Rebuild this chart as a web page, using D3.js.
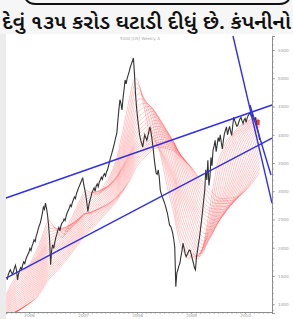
<!DOCTYPE html>
<html><head><meta charset="utf-8">
<script src="https://cdn.jsdelivr.net/npm/d3@7"></script>
<style>html,body{margin:0;padding:0;background:#f6f6f6;overflow:hidden}</style>
</head><body>
<svg id="c" width="293" height="319"></svg>
<script>
const headline = "દેવું ૧૩૫ કરોડ ઘટાડી દીધું છે. કંપનીનો";
const chartTitle = "5000 [US] Weekly A";
const yTickValues = [5500,5000,4500,4000,3500,3000,2500,2000,1500,1000];
const xTickYears = [2006,2007,2008,2009,2010];
const firstWeek = "2005-08-05";
// weekly closes before the visible window (only feed the moving averages)
const priorCloses = [150,190,170,230,260,240,300,330,310,370,
 400,380,440,470,450,510,540,520,580,610,
 590,650,680,660,720,750,730,790,820,800,
 860,890,870,930,960,940,1000,1040,1020,1080,
 1110,1100,1160,1200,1190,1250,1290,1300,1360,1400];
// weekly closes, visible window
const closes = [1430,1520,1570,1610,1570,1530,1570,1640,1690,1600,
 1430,1540,1600,1650,1620,1700,1750,1720,1790,1840,
 1880,1920,1990,1950,2030,2080,2140,2110,2200,2260,
 2330,2390,2440,2520,2610,2720,2680,2790,2700,2580,
 2400,2150,1700,1960,2050,1990,2090,2180,2240,2310,
 2360,2300,2390,2440,2460,2510,2480,2560,2620,2660,
 2700,2760,2730,2800,2850,2900,2870,2960,3010,3060,
 3100,3150,3190,3240,3120,3030,2930,2800,2640,2760,
 2840,2900,2980,3020,3060,3000,3090,3130,3080,3160,
 3200,3250,3210,3280,3310,3270,3340,3380,3450,3530,
 3600,3660,3730,3800,3880,3960,4030,4250,4450,4620,
 4550,4440,4650,4800,4970,4900,5000,5060,5120,5200,
 5250,5300,5360,5100,4740,4500,4310,4150,4000,3910,
 3850,3780,3900,4000,3950,3900,3980,4060,4140,4050,
 3920,3780,3600,3450,3320,3300,3380,3250,3020,2950,
 2900,2850,2800,2740,2670,2600,2500,2400,2380,2330,
 2260,2150,2010,1310,1550,1610,1680,1730,1850,1950,
 2080,1990,1900,1840,1880,1920,1960,1950,1880,1800,
 1730,1650,1610,1840,1950,2080,2190,2350,2500,2670,
 2850,3020,3380,3200,3550,3100,3250,3600,3450,3730,
 3800,3900,3700,3820,3950,3880,4000,3860,3750,3900,
 4020,4080,4140,4000,4080,4150,4060,3990,4150,4310,
 4250,4200,4150,4170,4230,4280,4310,4250,4200,4260,
 4290,4220,4300,4340,4370,4390,4320,4350,4300,4250,
 4310,4200,4100,4030,3910];
const maLengths = [14,17,20,23,26,29,32,35,38,41,44,47,50,53,56,59,62,65,68,71,74,77,80];
const trendLines = [
  [["2005-07-28",2880],["2010-07-02",4527]],
  [["2005-07-28",1464],["2010-07-02",3942]],
  [["2009-10-11",5748],["2010-07-02",2790]],
  [["2010-02-03",4527],["2010-06-25",3288]]
];

const svg = d3.select("#c");
const P = d3.timeParse("%Y-%m-%d");
const W = 293, H = 319;
const mL = 6, mR = 272, mT = 36, mB = 312;

// page furniture
svg.append("rect").attr("x",6).attr("y",34).attr("width",W-6).attr("height",H-34).attr("fill","#fff");
svg.append("rect").attr("x",0).attr("y",34).attr("width",6).attr("height",H-34).attr("fill","#ececec");
svg.append("path").attr("d","M25,-3 Q27,4 36,4 L279,4 Q288,4 290,-3")
  .attr("fill","none").attr("stroke","#111").attr("stroke-width",2);
svg.append("text").attr("x",2).attr("y",29).text(headline)
  .attr("font-family","'Noto Sans Gujarati','Lohit Gujarati','Noto Sans',sans-serif")
  .attr("font-size",20).attr("font-weight","600").attr("fill","#111")
  .attr("textLength",289).attr("lengthAdjust","spacingAndGlyphs");

const start = P(firstWeek);
const all = priorCloses.concat(closes).map((v,i)=>({
  date: d3.timeDay.offset(start, 7*(i-priorCloses.length)), v}));

const x = d3.scaleTime().domain([P("2005-07-28"), P("2010-07-02")]).range([mL,mR]);
const y = d3.scaleLinear().domain([845,5748]).range([313,mT]);

svg.append("defs").append("clipPath").attr("id","pc").append("rect")
  .attr("x",mL).attr("y",mT-2).attr("width",mR-mL).attr("height",mB-mT+2);

svg.append("text").attr("x",140).attr("y",40).attr("text-anchor","middle")
  .attr("font-family","DejaVu Sans").attr("font-size",4).attr("fill","#aaa").text(chartTitle);

const g = svg.append("g").attr("clip-path","url(#pc)");
const line = d3.line().x(d=>x(d.date)).y(d=>y(d.v));

// moving-average ribbon
const mas = maLengths.map(n => all.map((d,i)=>{
  const s = all.slice(Math.max(0,i-n+1), i+1);
  return {date:d.date, v:d3.mean(s, e=>e.v)};
}));
g.selectAll(".ma").data(mas).join("path").attr("class","ma")
  .attr("d", line).attr("fill","none").attr("stroke","#ff3030")
  .attr("stroke-opacity",0.45).attr("stroke-width",0.6);

// price
const visible = all.slice(priorCloses.length);
g.append("path").datum(visible).attr("d",line).attr("fill","none")
  .attr("stroke","#333").attr("stroke-width",1.1);

// last short-MA marker
const lastMa = mas[0][mas[0].length-1];
g.append("rect").attr("x",x(lastMa.date)-4).attr("y",y(lastMa.v)-1)
  .attr("width",4).attr("height",5).attr("fill","#b01010").attr("opacity",0.7);

// trend lines
svg.selectAll(".tl").data(trendLines).join("path").attr("class","tl")
  .attr("d", d3.line().x(d=>x(P(d[0]))).y(d=>y(d[1])))
  .attr("stroke","#3030e8").attr("stroke-width",1.4).attr("fill","none");

// axes
const axCol = "#888";
svg.append("g").attr("transform",`translate(${mR},0)`)
  .call(d3.axisRight(y).ticks(50).tickSize(1.8).tickFormat(""));
svg.append("g").attr("transform",`translate(${mR},0)`)
  .call(d3.axisRight(y).tickValues(yTickValues).tickSize(3).tickPadding(3).tickFormat(d3.format("d")));
svg.append("g").attr("transform",`translate(0,${mB})`)
  .call(d3.axisBottom(x).ticks(d3.timeMonth.every(1)).tickSize(1.8).tickFormat(""));
svg.append("g").attr("transform",`translate(0,${mB})`)
  .call(d3.axisBottom(x).tickValues(xTickYears.map(yr=>new Date(yr,0,1))).tickSize(2).tickPadding(0.5).tickFormat(d3.timeFormat("%Y")));
svg.selectAll(".domain").attr("stroke",axCol).attr("stroke-width",0.8);
svg.selectAll(".tick line").attr("stroke",axCol).attr("stroke-width",0.6);
svg.selectAll(".tick text").attr("fill","#999").attr("font-size",4.2).attr("font-family","DejaVu Sans");
</script>
</body></html>
